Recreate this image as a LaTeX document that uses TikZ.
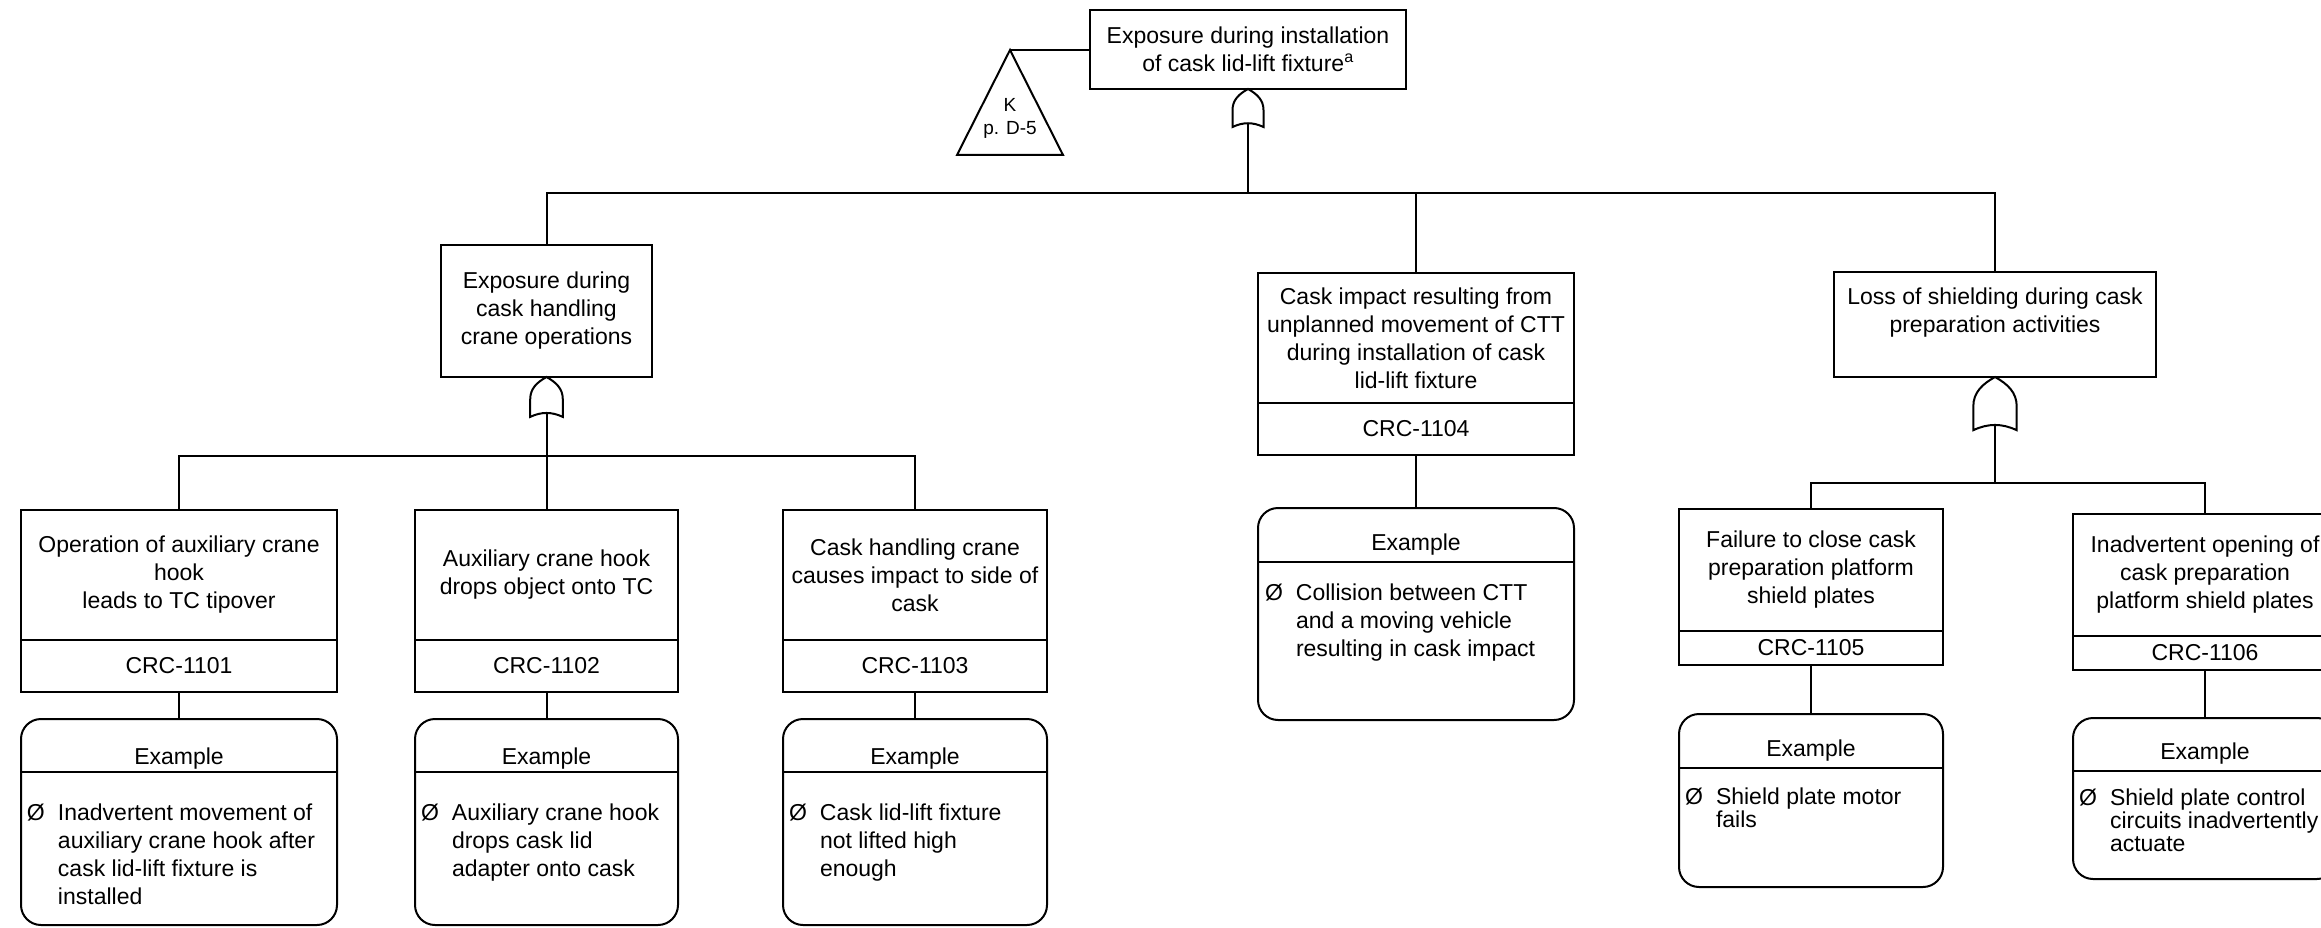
\documentclass[tikz,border=0pt]{standalone}
\usepackage{fontspec}
\setmainfont{Liberation Sans}
\usetikzlibrary{positioning}
\newcommand{\evfont}{\fontsize{23}{28}\selectfont}
\newcommand{\tightfont}{\fontsize{23}{23}\selectfont}
\newcommand{\kfont}{\fontsize{19}{23}\selectfont}
\newcommand{\exitem}[1]{\begin{tabular}[t]{@{}p{31pt}@{}l@{}}Ø&\begin{tabular}[t]{@{}l@{}}#1\end{tabular}\end{tabular}}

\begin{document}
\begin{tikzpicture}[x=1pt, y=-1pt, line width=2pt,
    every node/.style={font=\evfont, inner sep=0pt, outer sep=0pt},
    evbox/.style={draw, align=center},
    idbox/.style={draw, minimum height=52pt},
    exbox/.style={draw, rounded corners=20pt},
    exhead/.style={anchor=base},
    exbody/.style={anchor=base west},
    pics/orgate/.style={code={
        \draw[fill=white] (-15.5,38) -- (-15.5,21) .. controls (-15.5,11) and (-9,5) .. (0,0)
          .. controls (9,5) and (15.5,11) .. (15.5,21) -- (15.5,38)
          .. controls (5,33) and (-5,33) .. (-15.5,38) -- cycle;
        \coordinate (-in) at (0,34.3);
    }}]
  \useasboundingbox (0,0) rectangle (2321,928);
  \clip (0,0) rectangle (2321,928);

  \node[evbox, minimum width=316pt, minimum height=79pt] (top) at (1248,49.5) {Exposure during installation\\of cask lid-lift fixture\textsuperscript{a}};
  \coordinate (kapex) at (1010,50);
  \draw (kapex) -- (1063,155) -- (957,155) -- cycle;
  \node[font=\kfont, align=center] (ktext) at (1010,118) {K\\p. D-5};
  \draw (kapex) -- (kapex -| top.west);
  \pic (g0) at (top.south) {orgate};

  \node[evbox, minimum width=211pt, minimum height=132pt] (crane) at (546.5,311) {Exposure during\\cask handling\\crane operations};
  \node[evbox, minimum width=316pt, minimum height=130pt] (ctt) at (1416,338) {Cask impact resulting from\\unplanned movement of CTT\\during installation of cask\\lid-lift fixture};
  \node[idbox, minimum width=316pt, below=0pt of ctt] (cttid) {CRC-1104};
  \node[evbox, minimum width=322pt, minimum height=105pt] (shield) at (1995,324.5) {Loss of shielding during cask\\preparation activities\\\mbox{}};
  \coordinate (bar1) at (0,193);
  \draw (g0-in) -- (g0-in |- bar1);
  \draw (crane.north) |- (shield.north |- bar1) -- (shield.north);
  \draw (ctt.north) -- (ctt.north |- bar1);

  \pic[scale=1.05] (ga) at (crane.south) {orgate};
  \node[evbox, minimum width=316pt, minimum height=130pt] (tipover) at (179,575) {Operation of auxiliary crane\\hook\\leads to TC tipover};
  \node[idbox, minimum width=316pt, below=0pt of tipover] (tipoverid) {CRC-1101};
  \node[evbox, minimum width=263pt, minimum height=130pt] (drop) at (546.5,575) {Auxiliary crane hook\\drops object onto TC};
  \node[idbox, minimum width=263pt, below=0pt of drop] (dropid) {CRC-1102};
  \node[evbox, minimum width=264pt, minimum height=130pt] (sideimpact) at (915,575) {Cask handling crane\\causes impact to side of\\cask};
  \node[idbox, minimum width=264pt, below=0pt of sideimpact] (sideimpactid) {CRC-1103};
  \coordinate (bar2) at (0,456);
  \draw (ga-in) -- (ga-in |- bar2);
  \draw (tipover.north) |- (sideimpact.north |- bar2) -- (sideimpact.north);
  \draw (drop.north) -- (drop.north |- bar2);

  \pic[scale=1.4] (gr) at (shield.south) {orgate};
  \node[evbox, minimum width=264pt, minimum height=122pt] (closefail) at (1811,570) {Failure to close cask\\preparation platform\\shield plates};
  \node[idbox, minimum width=264pt, minimum height=34pt, below=0pt of closefail] (closefailid) {CRC-1105};
  \node[evbox, minimum width=264pt, minimum height=122pt] (openfail) at (2205,575) {Inadvertent opening of\\cask preparation\\platform shield plates};
  \node[idbox, minimum width=264pt, minimum height=34pt, below=0pt of openfail] (openfailid) {CRC-1106};
  \coordinate (bar3) at (0,483);
  \draw (gr-in) -- (gr-in |- bar3);
  \draw (closefail.north) |- (openfail.north |- bar3) -- (openfail.north);

  \node[exbox, minimum width=316pt, minimum height=206pt] (tipoverex) at (179,822) {};
  \draw ([yshift=-53pt]tipoverex.north west) -- ([yshift=-53pt]tipoverex.north east);
  \node[exhead] (tipoverhd) at ([yshift=-45pt]tipoverex.north) {Example};
  \node[exbody] (tipoverbd) at ([xshift=6pt,yshift=-101pt]tipoverex.north west) {\exitem{Inadvertent movement of\\auxiliary crane hook after\\cask lid-lift fixture is\\installed}};
  \draw (tipoverid) -- (tipoverex);

  \node[exbox, minimum width=263pt, minimum height=206pt] (dropex) at (546.5,822) {};
  \draw ([yshift=-53pt]dropex.north west) -- ([yshift=-53pt]dropex.north east);
  \node[exhead] (drophd) at ([yshift=-45pt]dropex.north) {Example};
  \node[exbody] (dropbd) at ([xshift=6pt,yshift=-101pt]dropex.north west) {\exitem{Auxiliary crane hook\\drops cask lid\\adapter onto cask}};
  \draw (dropid) -- (dropex);

  \node[exbox, minimum width=264pt, minimum height=206pt] (sideimpactex) at (915,822) {};
  \draw ([yshift=-53pt]sideimpactex.north west) -- ([yshift=-53pt]sideimpactex.north east);
  \node[exhead] (sideimpacthd) at ([yshift=-45pt]sideimpactex.north) {Example};
  \node[exbody] (sideimpactbd) at ([xshift=6pt,yshift=-101pt]sideimpactex.north west) {\exitem{Cask lid-lift fixture\\not lifted high\\enough}};
  \draw (sideimpactid) -- (sideimpactex);

  \node[exbox, minimum width=316pt, minimum height=212pt] (cttex) at (1416,614) {};
  \draw ([yshift=-54pt]cttex.north west) -- ([yshift=-54pt]cttex.north east);
  \node[exhead] (ctthd) at ([yshift=-42pt]cttex.north) {Example};
  \node[exbody] (cttbd) at ([xshift=7pt,yshift=-92pt]cttex.north west) {\exitem{Collision between CTT\\and a moving vehicle\\resulting in cask impact}};
  \draw (cttid) -- (cttex);

  \node[exbox, minimum width=264pt, minimum height=173pt] (closefailex) at (1811,800.5) {};
  \draw ([yshift=-54pt]closefailex.north west) -- ([yshift=-54pt]closefailex.north east);
  \node[exhead] (closefailhd) at ([yshift=-42pt]closefailex.north) {Example};
  \node[exbody, font=\tightfont] (closefailbd) at ([xshift=6pt,yshift=-90pt]closefailex.north west) {\exitem{Shield plate motor\\fails}};
  \draw (closefailid) -- (closefailex);

  \node[exbox, minimum width=264pt, minimum height=161pt] (openfailex) at (2205,798.5) {};
  \draw ([yshift=-53pt]openfailex.north west) -- ([yshift=-53pt]openfailex.north east);
  \node[exhead] (openfailhd) at ([yshift=-41pt]openfailex.north) {Example};
  \node[exbody, font=\tightfont] (openfailbd) at ([xshift=6pt,yshift=-87pt]openfailex.north west) {\exitem{Shield plate control\\circuits inadvertently\\actuate}};
  \draw (openfailid) -- (openfailex);
\end{tikzpicture}
\end{document}
